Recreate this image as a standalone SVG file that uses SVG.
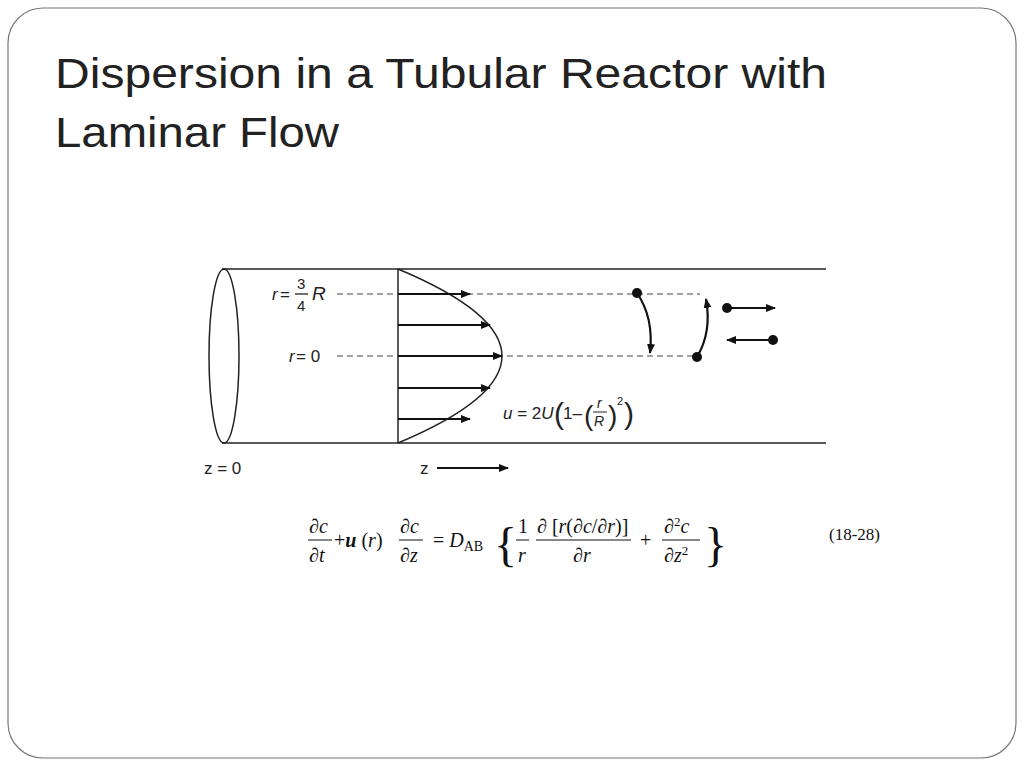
<svg xmlns="http://www.w3.org/2000/svg" width="1024" height="768" viewBox="0 0 1024 768">
<defs>
<marker id="ah" markerWidth="10" markerHeight="8" refX="9" refY="4" orient="auto" markerUnits="userSpaceOnUse"><path d="M0,0 L10,4 L0,8 z" fill="#111"/></marker>
<style>
.l{stroke:#222;stroke-width:1.5;fill:none}
.d{stroke:#444;stroke-width:1.2;stroke-dasharray:6,4;fill:none}
.a{stroke:#111;stroke-width:2.2;fill:none;marker-end:url(#ah)}
.t{font-family:"Liberation Sans",Arial,sans-serif;fill:#222}
.m{font-family:"Liberation Serif","Times New Roman",serif;fill:#111}
</style>
</defs>
<rect width="1024" height="768" fill="#fff"/>
<rect x="8" y="8" width="1008" height="750" rx="35" fill="#fff" stroke="#777" stroke-width="1.2"/>
<g id="title"><text class="t" x="55" y="88" font-size="42" textLength="772" lengthAdjust="spacingAndGlyphs">Dispersion in a Tubular Reactor with</text><text class="t" x="55" y="147" font-size="42" textLength="284" lengthAdjust="spacingAndGlyphs">Laminar Flow</text></g>
<g id="tube">
<line class="l" x1="222" y1="269" x2="826" y2="269"/>
<line class="l" x1="222" y1="443" x2="826" y2="443"/>
<ellipse class="l" cx="224" cy="356" rx="15" ry="87"/>
<line class="l" x1="398" y1="269" x2="398" y2="443"/>
<path class="l" d="M398,269 Q606,356 398,443"/>
</g>
<g id="connectors">
<line class="d" x1="337" y1="294" x2="700" y2="294"/>
<line class="d" x1="337" y1="356" x2="697" y2="356"/>
<line class="a" x1="398" y1="294" x2="470" y2="294"/>
<line class="a" x1="398" y1="325" x2="490" y2="325"/>
<line class="a" x1="398" y1="356" x2="502" y2="356"/>
<line class="a" x1="398" y1="388" x2="490" y2="388"/>
<line class="a" x1="398" y1="419" x2="470" y2="419"/>
<path class="a" d="M637,293 Q654,318 650,353"/>
<path class="a" d="M697,357 Q712,332 706,299"/>
<circle cx="637" cy="293" r="5" fill="#111"/>
<circle cx="697" cy="357" r="5" fill="#111"/>
<circle cx="727" cy="308" r="5" fill="#111"/>
<line class="a" x1="727" y1="308" x2="775" y2="308"/>
<circle cx="773" cy="340" r="5" fill="#111"/>
<line class="a" x1="773" y1="340" x2="727" y2="340"/>
<line class="a" x1="437" y1="468" x2="508" y2="468"/>
</g>
<g id="labels" class="t" font-size="17">
<text x="272" y="300" font-style="italic">r</text><text x="280" y="300">=</text>
<text x="297" y="289" font-size="15">3</text><line x1="295" y1="294" x2="308" y2="294" stroke="#222" stroke-width="1.3"/><text x="297" y="311" font-size="15">4</text>
<text x="312" y="300" font-style="italic" font-size="19">R</text>
<text x="289" y="362" font-style="italic">r</text><text x="296" y="362">= 0</text>
<text x="204" y="474">z = 0</text>
<text x="420" y="474">z</text>
<text x="503" y="419"><tspan font-style="italic">u</tspan> = 2<tspan font-style="italic">U</tspan></text>
<text x="554" y="424" font-size="30">(</text>
<text x="563" y="419">1–</text>
<text x="584" y="425" font-size="28">(</text>
<text x="597" y="408" font-size="14" font-style="italic">r</text><line x1="593" y1="412" x2="607" y2="412" stroke="#222"/><text x="594" y="426" font-size="14" font-style="italic">R</text>
<text x="608" y="425" font-size="28">)</text>
<text x="617" y="405" font-size="11">2</text>
<text x="624" y="424" font-size="30">)</text>
</g>
<g id="equation" class="m" font-size="20">
<text x="309" y="533">∂<tspan font-style="italic">c</tspan></text><line x1="308" y1="540" x2="332" y2="540" stroke="#111"/><text x="309" y="562">∂<tspan font-style="italic">t</tspan></text>
<text x="334" y="547">+<tspan font-style="italic" font-weight="bold">u</tspan> (<tspan font-style="italic">r</tspan>)</text>
<text x="400" y="533">∂<tspan font-style="italic">c</tspan></text><line x1="399" y1="540" x2="423" y2="540" stroke="#111"/><text x="400" y="562">∂<tspan font-style="italic">z</tspan></text>
<text x="433" y="547">= <tspan font-style="italic">D</tspan><tspan font-size="14" dy="4">AB</tspan></text>
<text x="494" y="561" font-size="48">{</text>
<text x="518" y="533">1</text><line x1="516" y1="540" x2="529" y2="540" stroke="#111"/><text x="518" y="562" font-style="italic">r</text>
<text x="537" y="533">∂ [<tspan font-style="italic">r</tspan>(∂<tspan font-style="italic">c</tspan>/∂<tspan font-style="italic">r</tspan>)]</text><line x1="536" y1="540" x2="631" y2="540" stroke="#111"/><text x="573" y="562">∂<tspan font-style="italic">r</tspan></text>
<text x="640" y="547">+</text>
<text x="664" y="533">∂<tspan font-size="13" dy="-7">2</tspan><tspan dy="7" font-style="italic">c</tspan></text><line x1="662" y1="540" x2="700" y2="540" stroke="#111"/><text x="664" y="562">∂<tspan font-style="italic">z</tspan><tspan font-size="13" dy="-7">2</tspan></text>
<text x="704" y="561" font-size="48">}</text>
</g>
<text class="m" x="829" y="540" font-size="17">(18-28)</text>
</svg>
